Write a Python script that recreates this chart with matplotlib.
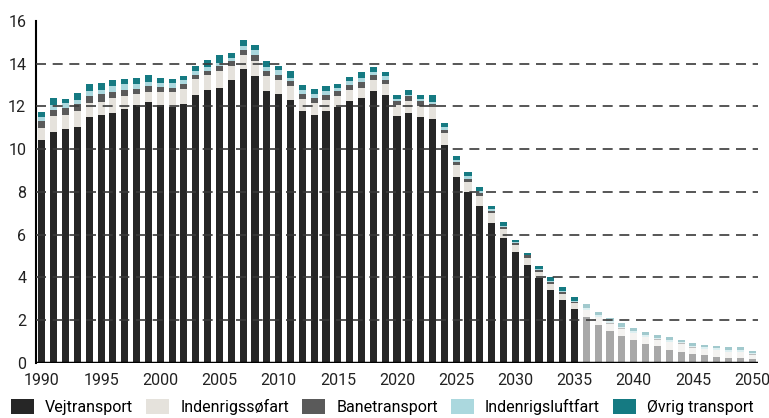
import numpy as np
import matplotlib.pyplot as plt

plt.rcParams['font.family'] = ['Roboto', 'DejaVu Sans']

years = np.arange(1990, 2051)

# historik + fremskrivning til 2035 (mio. ton CO2e, aflæst)
vej = [10.41, 10.82, 10.94, 11.05, 11.52, 11.58, 11.71, 11.88, 12.07, 12.22,
       12.05, 11.99, 12.12, 12.52, 12.75, 12.87, 13.24, 13.75, 13.41, 12.71,
       12.58, 12.30, 11.77, 11.60, 11.77, 11.98, 12.24, 12.41, 12.71, 12.52,
       11.54, 11.69, 11.51, 11.41, 10.21, 8.70, 7.98, 7.35, 6.57, 5.87,
       5.17, 4.59, 3.98, 3.42, 2.95, 2.53,
       2.14, 1.78, 1.50, 1.26, 1.08, 0.89, 0.78, 0.61, 0.53, 0.42,
       0.36, 0.30, 0.25, 0.25, 0.19]
soe = [0.58, 0.72, 0.66, 0.72, 0.64, 0.64, 0.69, 0.59, 0.51, 0.47,
       0.64, 0.69, 0.70, 0.75, 0.71, 0.77, 0.64, 0.64, 0.74, 0.70,
       0.66, 0.64, 0.58, 0.56, 0.52, 0.49, 0.55, 0.47, 0.54, 0.53,
       0.51, 0.55, 0.53, 0.57, 0.55, 0.54, 0.50, 0.47, 0.44, 0.41,
       0.37, 0.34, 0.30, 0.28, 0.28, 0.27,
       0.32, 0.37, 0.34, 0.34, 0.32, 0.32, 0.31, 0.37, 0.37, 0.30,
       0.28, 0.29, 0.26, 0.26, 0.20]
bane = [0.31, 0.28, 0.33, 0.35, 0.31, 0.35, 0.29, 0.32, 0.24, 0.25,
        0.24, 0.20, 0.23, 0.20, 0.22, 0.24, 0.23, 0.24, 0.24, 0.23,
        0.23, 0.24, 0.23, 0.24, 0.24, 0.24, 0.23, 0.25, 0.24, 0.20,
        0.22, 0.23, 0.22, 0.15, 0.15, 0.17, 0.15, 0.13, 0.12, 0.10,
        0.09, 0.10, 0.08, 0.09, 0.08, 0.07,
        0.02, 0.02, 0.02, 0.02, 0.02, 0.02, 0.02, 0.02, 0.02, 0.02,
        0.02, 0.02, 0.02, 0.02, 0.02]
luft = [0.21, 0.23, 0.23, 0.17, 0.24, 0.22, 0.25, 0.26, 0.22, 0.22,
        0.17, 0.23, 0.17, 0.18, 0.17, 0.15, 0.18, 0.19, 0.24, 0.19,
        0.22, 0.15, 0.17, 0.18, 0.18, 0.14, 0.17, 0.19, 0.11, 0.16,
        0.08, 0.08, 0.09, 0.09, 0.13, 0.10, 0.10, 0.09, 0.07, 0.05,
        0.05, 0.03, 0.03, 0.04, 0.05, 0.05,
        0.11, 0.08, 0.11, 0.08, 0.08, 0.08, 0.08, 0.08, 0.06, 0.07,
        0.08, 0.08, 0.08, 0.08, 0.04]
oevrig = [0.21, 0.35, 0.19, 0.36, 0.36, 0.32, 0.30, 0.24, 0.29, 0.31,
          0.23, 0.19, 0.21, 0.23, 0.31, 0.38, 0.23, 0.29, 0.25, 0.28,
          0.19, 0.31, 0.24, 0.24, 0.23, 0.22, 0.17, 0.28, 0.23, 0.19,
          0.20, 0.20, 0.19, 0.32, 0.19, 0.19, 0.20, 0.19, 0.15, 0.17,
          0.09, 0.09, 0.15, 0.17, 0.21, 0.16,
          0.16, 0.12, 0.12, 0.16, 0.12, 0.14, 0.14, 0.12, 0.11, 0.11,
          0.10, 0.11, 0.13, 0.13, 0.11]

navne = ['Vejtransport', 'Indenrigssøfart', 'Banetransport', 'Indenrigsluftfart', 'Øvrig transport']
farver = ['#262626', '#e5e2dc', '#5a5a5a', '#abd8de', '#157a82']
serier = [vej, soe, bane, luft, oevrig]
sidste_aar = 2035  # efter dette tegnes søjlerne blegere

fig = plt.figure(figsize=(7.69, 4.18), dpi=100)
ax = fig.add_axes([0.0468, 0.1316, 0.9389, 0.8182])

hist = years <= sidste_aar
bund = np.zeros(len(years))
for navn, farve, vals in zip(navne, farver, serier):
    vals = np.array(vals)
    ax.bar(years[hist], vals[hist], bottom=bund[hist], width=0.6, color=farve, label=navn, zorder=2)
    ax.bar(years[~hist], vals[~hist], bottom=bund[~hist], width=0.6, color=farve, alpha=0.4, zorder=2)
    bund += vals

for y in range(2, 16, 2):
    ax.axhline(y, color='#3a3a3a', lw=1.2, ls=(0, (6, 4)), zorder=3)
ax.axhline(0, color='black', lw=2.5, zorder=4)

ax.set_xlim(1989.5, 2050.5)
ax.set_ylim(0, 16)
ax.set_yticks(range(0, 17, 2))
ax.set_xticks(range(1990, 2051, 5))
ax.tick_params(length=0, labelsize=11.5, colors='#222222')
ax.tick_params(axis='x', pad=7)
ax.tick_params(axis='y', pad=7)
for s in ['top', 'right', 'bottom']:
    ax.spines[s].set_visible(False)
ax.spines['left'].set_linewidth(1.5)

fig.legend(loc='center left', bbox_to_anchor=(0.014, 0.026), ncol=5, frameon=False,
           fontsize=11.5, handlelength=1.45, handleheight=1.1, columnspacing=0.8,
           handletextpad=0.7, borderaxespad=0, borderpad=0)

fig.savefig('out.png', dpi=100)
